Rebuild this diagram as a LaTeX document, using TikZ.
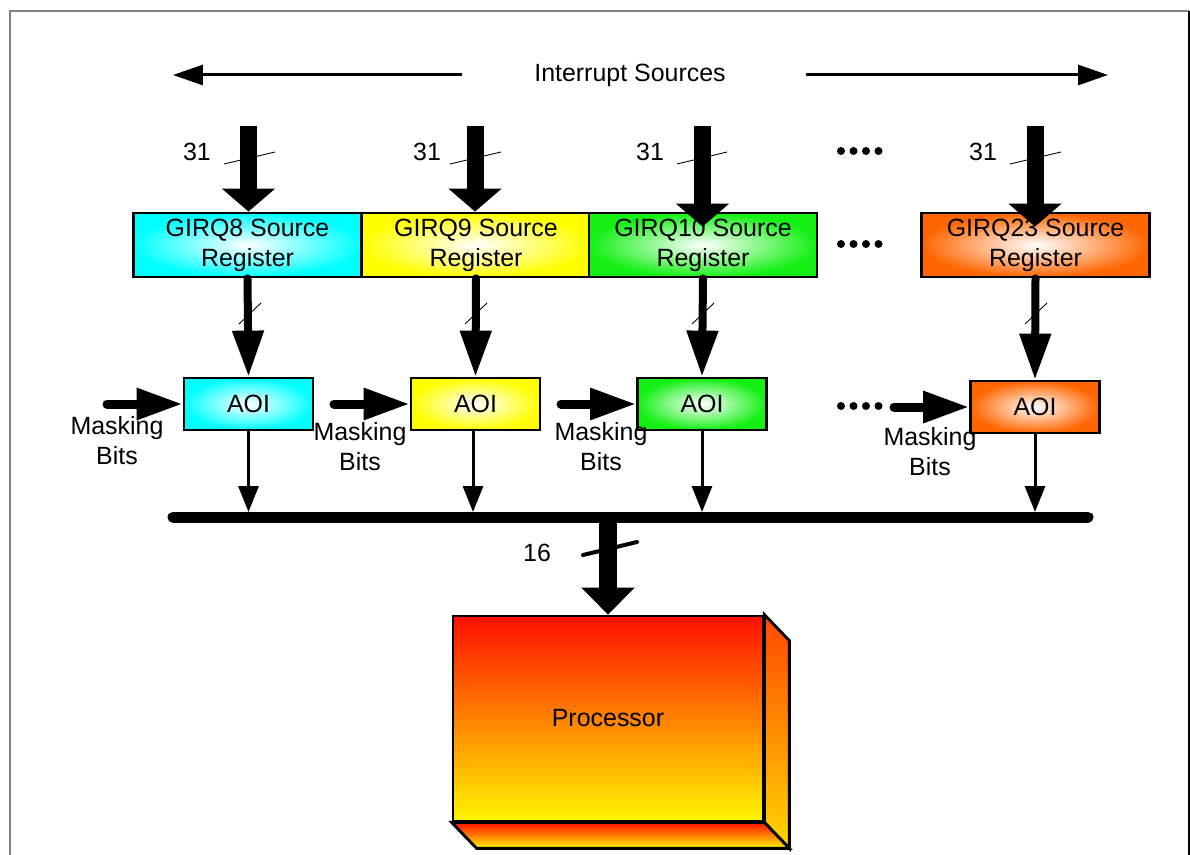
\documentclass[tikz,border=0pt]{standalone}
\usepackage{fontspec}
\setmainfont{Liberation Sans}
\usetikzlibrary{arrows.meta,calc}
\definecolor{girqcyan}{RGB}{0,255,255}
\definecolor{girqyellow}{RGB}{255,255,0}
\definecolor{girqgreen}{RGB}{20,240,20}
\definecolor{girqorange}{RGB}{255,102,0}
\definecolor{cpured}{RGB}{255,15,0}
\definecolor{cpuyellow}{RGB}{255,245,0}
\definecolor{cpuside}{RGB}{255,70,0}
\definecolor{cpusideb}{RGB}{255,215,0}
\tikzstyle{reg}=[draw=black,line width=1.6pt,minimum width=4.56cm,minimum height=1.28cm,inner sep=0pt,align=center,inner color=white]
\tikzstyle{aoi}=[draw=black,line width=1.6pt,minimum width=2.58cm,minimum height=1.04cm,inner sep=0pt,inner color=white]
\tikzstyle{lbl}=[inner sep=0pt,align=center]
\tikzstyle{toparrow}=[line width=0.06cm,-{Triangle[length=0.6cm,width=0.4cm]}]
\tikzstyle{srcarrow}=[line width=0.34cm,-{Triangle[length=0.46cm,width=1.04cm]}]
\tikzstyle{regarrow}=[line width=0.16cm,line cap=round,-{Triangle[length=0.92cm,width=0.6cm]}]
\tikzstyle{maskarrow}=[line width=0.18cm,line cap=round,-{Triangle[length=0.92cm,width=0.6cm]}]
\tikzstyle{aoiarrow}=[line width=0.06cm,-{Triangle[length=0.52cm,width=0.4cm]}]
\tikzstyle{cpuarrow}=[line width=0.36cm,-{Triangle[length=0.54cm,width=1.04cm]}]
\tikzstyle{buswire}=[line width=0.22cm,line cap=round]
\tikzstyle{slash}=[line width=0.5pt]

\begin{document}
\begin{tikzpicture}[x=0.02cm,y=-0.02cm,font=\fontsize{14.2}{17}\selectfont]
\useasboundingbox (0,0) rectangle (1190,855);
\draw[gray,line width=1.2pt] (10,855) -- (10,11) -- (1189,11);
\draw[line width=1.2pt] (1189,11) -- (1189,855);

\node[lbl] (srcs) at (630,75) {Interrupt Sources};
\coordinate (srcL) at (462,75);
\coordinate (tipL) at (173,75);
\coordinate (srcR) at (806,75);
\coordinate (tipR) at (1108,75);
\draw[toparrow] (srcL) -- (tipL);
\draw[toparrow] (srcR) -- (tipR);

\node[reg,outer color=girqcyan] (reg8) at (247.5,245) {GIRQ8 Source\\Register};
\node[reg,outer color=girqyellow] (reg9) at (476,245) {GIRQ9 Source\\Register};
\node[reg,outer color=girqgreen] (reg10) at (703,245) {GIRQ10 Source\\Register};
\node[reg,outer color=girqorange] (reg23) at (1035.5,245) {GIRQ23 Source\\Register};

\node[aoi,outer color=girqcyan] (aoi8) at (248.5,404) {AOI};
\node[aoi,outer color=girqyellow] (aoi9) at (475.5,404) {AOI};
\node[aoi,outer color=girqgreen] (aoi10) at (702,404) {AOI};
\node[aoi,outer color=girqorange] (aoi23) at (1035,407) {AOI};

\coordinate (in8) at (248.5,126);
\coordinate (in9) at (475,126);
\coordinate (in10) at (702.5,126);
\coordinate (in23) at (1035,126);
\draw[srcarrow] (in8) -- (in8 |- reg8.north);
\draw[srcarrow] (in9) -- (in9 |- reg9.north);
\draw[srcarrow] (in10) -- ([yshift=-0.3cm]in10 |- reg10.north);
\draw[srcarrow] (in23) -- ([yshift=-0.3cm]in23 |- reg23.north);

\node[lbl] (w8) at (197,152) {31};
\node[lbl] (w9) at (427,152) {31};
\node[lbl] (w10) at (650,152) {31};
\node[lbl] (w23) at (983,152) {31};
\draw[slash] (224,164) -- (275,152);
\draw[slash] (450,164) -- (501,152);
\draw[slash] (677,164) -- (727,152);
\draw[slash] (1010,164) -- (1061,152);

\fill (841,151) circle (0.08cm) (853.5,151) circle (0.08cm) (866,151) circle (0.08cm) (878.5,151) circle (0.08cm);
\fill (841,244) circle (0.08cm) (853.5,244) circle (0.08cm) (866,244) circle (0.08cm) (878.5,244) circle (0.08cm);
\fill (841,406) circle (0.08cm) (853.5,406) circle (0.08cm) (866,406) circle (0.08cm) (878.5,406) circle (0.08cm);

\draw[regarrow] (reg8.south) -- (aoi8.north);
\draw[regarrow] (reg9.south) -- (aoi9.north);
\draw[regarrow] (reg10.south) -- (aoi10.north);
\draw[regarrow] (reg23.south) -- (aoi23.north);
\draw[slash] (239,324) -- (261,303);
\draw[slash] (465,324) -- (487,303);
\draw[slash] (692,324) -- (714,303);
\draw[slash] (1025,324) -- (1047,303);

\coordinate (m8) at (107,404);
\coordinate (m9) at (334,404);
\coordinate (m10) at (561,404);
\coordinate (m23) at (894,407);
\draw[maskarrow] (m8) -- (aoi8.west);
\draw[maskarrow] (m9) -- (aoi9.west);
\draw[maskarrow] (m10) -- (aoi10.west);
\draw[maskarrow] (m23) -- (aoi23.west);
\node[lbl] (mb8) at (117,441) {Masking\\Bits};
\node[lbl] (mb9) at (360,447) {Masking\\Bits};
\node[lbl] (mb10) at (601,447) {Masking\\Bits};
\node[lbl] (mb23) at (930,452) {Masking\\Bits};

\coordinate (busL) at (173,517);
\coordinate (busR) at (1088,517);
\draw[buswire] (busL) -- (busR);
\draw[aoiarrow,shorten >=0.1cm] (aoi8.south) -- (aoi8.south |- busL);
\draw[aoiarrow,shorten >=0.1cm] ([xshift=-0.05cm]aoi9.south) -- ([xshift=-0.05cm]aoi9.south |- busL);
\draw[aoiarrow,shorten >=0.1cm] (aoi10.south) -- (aoi10.south |- busL);
\draw[aoiarrow,shorten >=0.1cm] (aoi23.south) -- (aoi23.south |- busL);

\node[draw=black,line width=1.6pt,minimum width=6.2cm,minimum height=4.1cm,top color=cpured,bottom color=cpuyellow] (cpu) at (608,718.5) {Processor};
\draw[line width=1.6pt,top color=cpuside,bottom color=cpusideb] (cpu.north east) -- ++(25,26) -- ([shift={(25,26)}]cpu.south east) -- (cpu.south east) -- cycle;
\draw[line width=1.6pt,top color=cpured,bottom color=cpuyellow] (cpu.south west) -- (cpu.south east) -- ++(25,26) -- ([shift={(25,26)}]cpu.south west) -- cycle;

\coordinate (bus16) at (608,517);
\draw[cpuarrow] (bus16) -- (cpu.north);
\node[lbl] (w16) at (537,553) {16};
\draw[line width=0.08cm,line cap=round] (583,555) -- (637,542);
\end{tikzpicture}
\end{document}
